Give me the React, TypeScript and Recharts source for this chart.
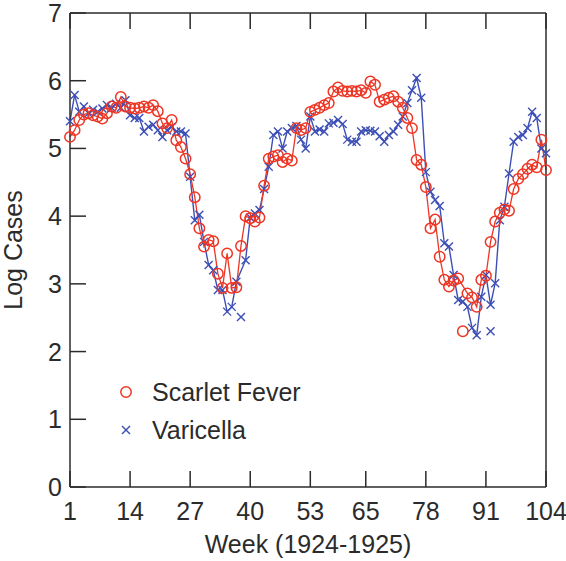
import React from 'react';
import { ComposedChart, Line, XAxis, YAxis, Legend } from 'recharts';

// weekly log case counts, London 1924-1925
const scarletFever: (number | null)[] = [
  5.17, 5.27, 5.42, 5.5, 5.52, 5.49, 5.47, 5.44, 5.52, 5.62, 5.6, 5.76, 5.62, 5.6, 5.59, 5.6, 5.62, 5.6, 5.64, 5.55,
  5.37, 5.3, 5.42, 5.12, 5.02, 4.85, 4.62, 4.28, 3.82, 3.55, 3.65, 3.63, 3.15, 2.94, 3.45, 2.94, 2.95, 3.56, 4.0, 3.97,
  3.92, 3.98, 4.45, 4.85, 4.88, 4.9, 4.8, 4.85, 4.82, 5.3, 5.27, 5.3, 5.54, 5.57, 5.6, 5.64, 5.67, 5.84, 5.9, 5.85,
  5.84, 5.85, 5.84, 5.86, 5.82, 5.99, 5.94, 5.69, 5.72, 5.75, 5.77, 5.69, 5.6, 5.45, 5.3, 4.83, 4.76, 4.43, 3.82, 3.95,
  3.4, 3.06, 2.96, 3.05, 3.08, null, 2.86, 2.8, 2.66, 3.06, 3.12, 3.62, 3.92, 4.05, 4.1, 4.08, 4.4, 4.55, 4.62, 4.7,
  4.76, 4.72, 5.13, 4.68,
];

const varicella: (number | null)[] = [
  5.4, 5.79, 5.54, 5.62, 5.52, 5.57, 5.54, 5.59, 5.64, 5.6, 5.66, 5.6, 5.71, 5.49, 5.45, 5.45, 5.25, 5.32, 5.35, 5.27,
  5.17, 5.27, 5.32, 5.25, 5.25, 5.22, 4.58, 3.94, 4.02, 3.62, 3.28, 3.2, 2.91, 2.91, 2.59, 2.66, 3.03, null, 3.35, 3.98,
  4.04, 4.09, 4.4, 4.73, 5.2, 5.25, 5.0, 5.25, 5.3, 5.33, 5.13, 5.0, 5.47, 5.25, 5.28, 5.25, 5.37, 5.38, 5.42, 5.36,
  5.13, 5.1, 5.1, 5.25, 5.27, 5.26, 5.25, 5.18, 5.1, 5.2, 5.25, 5.35, 5.47, 5.67, 5.86, 6.04, 5.75, 4.65, 4.36, 4.24,
  4.15, 3.6, 3.55, 3.13, 2.76, 2.74, 2.66, 2.35, 2.24, 2.81, 3.13, 2.69, 3.01, 3.94, 4.14, 4.63, 5.1, 5.17, 5.2, 5.3,
  5.54, 5.45, 5.0, 4.93,
];

// points that sit off the connecting line: [week, value]
const scarletOff: [number, number][] = [[86, 2.3]];
const varicellaOff: [number, number][] = [[38, 2.51], [92, 2.3]];

const weekTicks = [1, 14, 27, 40, 53, 65, 78, 91, 104];
const logTicks = [0, 1, 2, 3, 4, 5, 6, 7];

const RED = '#ee3524';
const BLUE = '#3d4fb5';
const INK = '#2b2b2b';
const FONT = '"Liberation Sans", Arial, sans-serif';
const FS = 25;
const TICK_LEN = 16;

const data = scarletFever.map((sf, i) => {
  const week = i + 1;
  const so = scarletOff.find((p) => p[0] === week);
  const vo = varicellaOff.find((p) => p[0] === week);
  return {
    week,
    sf,
    vc: varicella[i],
    sfOff: so ? so[1] : null,
    vcOff: vo ? vo[1] : null,
  };
});

const Ring = (props: any) => {
  const { cx, cy, index } = props;
  if (cx == null || cy == null) return <g key={`r${index}`} />;
  return <circle key={`r${index}`} cx={cx} cy={cy} r={5.2} fill="none" stroke={RED} strokeWidth={1.5} />;
};

const Cross = (props: any) => {
  const { cx, cy, index } = props;
  if (cx == null || cy == null) return <g key={`c${index}`} />;
  const s = 4;
  return (
    <g key={`c${index}`} stroke={BLUE} strokeWidth={1.4}>
      <line x1={cx - s} y1={cy - s} x2={cx + s} y2={cy + s} />
      <line x1={cx - s} y1={cy + s} x2={cx + s} y2={cy - s} />
    </g>
  );
};

const BottomTick = ({ x, y, payload }: any) => (
  <g>
    <line x1={x} y1={y} x2={x} y2={y - TICK_LEN} stroke={INK} strokeWidth={1.5} />
    <text x={x} y={y + 33} textAnchor="middle" fill={INK} fontSize={FS} fontFamily={FONT}>
      {payload.value}
    </text>
  </g>
);

const TopTick = ({ x, y }: any) => (
  <line x1={x} y1={y} x2={x} y2={y + TICK_LEN} stroke={INK} strokeWidth={1.5} />
);

const LeftTick = ({ x, y, payload }: any) => (
  <g>
    <line x1={x} y1={y} x2={x + TICK_LEN} y2={y} stroke={INK} strokeWidth={1.5} />
    <text x={x - 8} y={y + 9} textAnchor="end" fill={INK} fontSize={FS} fontFamily={FONT}>
      {payload.value}
    </text>
  </g>
);

const RightTick = ({ x, y }: any) => (
  <line x1={x} y1={y} x2={x - TICK_LEN} y2={y} stroke={INK} strokeWidth={1.5} />
);

const YTitle = ({ viewBox }: any) => {
  const cy = viewBox.y + viewBox.height / 2;
  return (
    <text
      transform={`translate(22, ${cy}) rotate(-90)`}
      textAnchor="middle"
      fill={INK}
      fontSize={FS}
      fontFamily={FONT}
    >
      Log Cases
    </text>
  );
};

const renderLegend = () => (
  <div style={{ fontFamily: FONT, fontSize: FS, color: INK, lineHeight: '38px' }}>
    <div style={{ display: 'flex', alignItems: 'center' }}>
      <svg width={28} height={20} style={{ marginRight: 10 }}>
        <circle cx={12} cy={10} r={5.2} fill="none" stroke={RED} strokeWidth={1.5} />
      </svg>
      Scarlet Fever
    </div>
    <div style={{ display: 'flex', alignItems: 'center' }}>
      <svg width={28} height={20} style={{ marginRight: 10 }}>
        <g stroke={BLUE} strokeWidth={1.4}>
          <line x1={8} y1={6} x2={16} y2={14} />
          <line x1={8} y1={14} x2={16} y2={6} />
        </g>
      </svg>
      Varicella
    </div>
  </div>
);

export default function App() {
  return (
    <div style={{ position: 'absolute', left: 0, top: 0, width: 566, height: 561, background: '#fff' }}>
      <ComposedChart width={566} height={561} data={data} margin={{ top: 0, right: 0, bottom: 0, left: 0 }}>
        <XAxis
          xAxisId="b"
          dataKey="week"
          type="number"
          domain={[1, 104]}
          ticks={weekTicks}
          height={74}
          tickSize={0}
          tickMargin={0}
          tickLine={false}
          tick={<BottomTick />}
          axisLine={{ stroke: INK, strokeWidth: 1.5 }}
          interval={0}
          label={{ value: 'Week (1924-1925)', position: 'insideBottom', offset: 8, fill: INK, fontSize: FS, fontFamily: FONT }}
        />
        <XAxis
          xAxisId="t"
          orientation="top"
          dataKey="week"
          type="number"
          domain={[1, 104]}
          ticks={weekTicks}
          height={13}
          tickSize={0}
          tickMargin={0}
          tickLine={false}
          tick={<TopTick />}
          axisLine={{ stroke: INK, strokeWidth: 1.5 }}
          interval={0}
        />
        <YAxis
          yAxisId="l"
          type="number"
          domain={[0, 7]}
          ticks={logTicks}
          width={70}
          tickSize={0}
          tickMargin={0}
          tickLine={false}
          tick={<LeftTick />}
          axisLine={{ stroke: INK, strokeWidth: 1.5 }}
          interval={0}
          label={<YTitle />}
        />
        <YAxis
          yAxisId="r"
          orientation="right"
          type="number"
          domain={[0, 7]}
          ticks={logTicks}
          width={20}
          tickSize={0}
          tickMargin={0}
          tickLine={false}
          tick={<RightTick />}
          axisLine={{ stroke: INK, strokeWidth: 1.5 }}
          interval={0}
        />
        <Legend
          layout="vertical"
          align="center"
          verticalAlign="middle"
          content={renderLegend}
          wrapperStyle={{ left: 114, top: 373, width: 230 }}
        />
        <Line
          xAxisId="b"
          yAxisId="l"
          dataKey="vc"
          name="Varicella"
          stroke={BLUE}
          strokeWidth={1.4}
          dot={Cross}
          activeDot={false}
          connectNulls
          isAnimationActive={false}
        />
        <Line
          xAxisId="b"
          yAxisId="l"
          dataKey="vcOff"
          stroke="none"
          dot={Cross}
          activeDot={false}
          legendType="none"
          isAnimationActive={false}
        />
        <Line
          xAxisId="b"
          yAxisId="l"
          dataKey="sf"
          name="Scarlet Fever"
          stroke={RED}
          strokeWidth={1.3}
          dot={Ring}
          activeDot={false}
          connectNulls
          isAnimationActive={false}
        />
        <Line
          xAxisId="b"
          yAxisId="l"
          dataKey="sfOff"
          stroke="none"
          dot={Ring}
          activeDot={false}
          legendType="none"
          isAnimationActive={false}
        />
      </ComposedChart>
    </div>
  );
}
